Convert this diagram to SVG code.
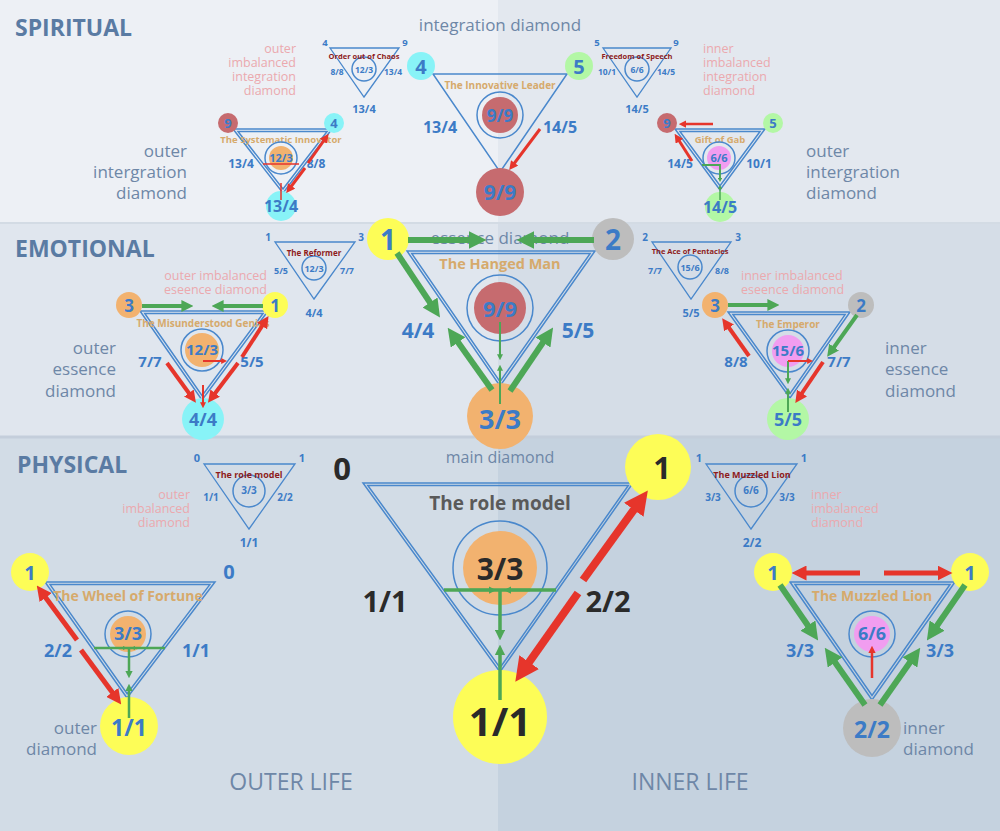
<svg xmlns="http://www.w3.org/2000/svg" width="1000" height="831" viewBox="0 0 1000 831">
<defs>
<style>
text{font-family:"Open Sans","DejaVu Sans",sans-serif}
.b{font-weight:bold;fill:#3c7bc6;text-anchor:middle;dominant-baseline:central}
.k{font-weight:bold;fill:#2a2a2a;text-anchor:middle;dominant-baseline:central}
.t{font-weight:bold;fill:#d6aa6c;text-anchor:middle;dominant-baseline:central}
.dr{font-weight:bold;fill:#8e1c1c;text-anchor:middle;dominant-baseline:central}
.sec{font-weight:bold;fill:#5a7ba3;font-size:23px}
.d{fill:#6e87a7}
.pk{fill:#eba9ae;font-size:12.5px}
.tri{fill:none;stroke:#4a88cc;stroke-width:1.5}
.tri2{fill:none;stroke:#4a88cc;stroke-width:1.3}
.ring{fill:none;stroke:#4a88cc;stroke-width:1.5}
.r{stroke:#e6352b;fill:none;marker-end:url(#ar)}
.g{stroke:#4da756;fill:none;marker-end:url(#ag)}
.rl{stroke:#e6352b;fill:none}
.gl{stroke:#4da756;fill:none}
.cy{fill:#88f3f7}.ye{fill:#fdfd57}.or{fill:#f2b26f}.gr{fill:#b3f7a5}.gy{fill:#bdbdbd}.ro{fill:#c66b6f}.mg{fill:#f19df0}
</style>
<marker id="ar" viewBox="0 0 10 10" refX="3" refY="5" markerWidth="3" markerHeight="3" orient="auto"><path d="M0,0L10,5L0,10z" fill="#e6352b"/></marker>
<marker id="ag" viewBox="0 0 10 10" refX="3" refY="5" markerWidth="3" markerHeight="3" orient="auto"><path d="M0,0L10,5L0,10z" fill="#4da756"/></marker>
</defs>

<g id="background">
<rect x="0" y="0" width="498" height="223" fill="#edf0f5"/>
<rect x="498" y="0" width="502" height="223" fill="#e3e8ef"/>
<rect x="0" y="223" width="498" height="214" fill="#e0e6ee"/>
<rect x="498" y="223" width="502" height="214" fill="#d5dde7"/>
<rect x="0" y="437" width="498" height="394" fill="#d2dce6"/>
<rect x="498" y="437" width="502" height="394" fill="#c5d2df"/>
<line x1="0" y1="223" x2="1000" y2="223" stroke="#d3dbe4" stroke-width="2"/>
<line x1="0" y1="437" x2="1000" y2="437" stroke="#c4cedb" stroke-width="3"/>
</g>

<g id="section-labels">
<text class="sec" x="15" y="36">SPIRITUAL</text>
<text class="sec" x="15" y="257">EMOTIONAL</text>
<text class="sec" x="17" y="473">PHYSICAL</text>
<text class="d" x="500" y="31" text-anchor="middle" font-size="17">integration diamond</text>
<text class="d" x="500" y="244" text-anchor="middle" font-size="17">essence diamond</text>
<text class="d" x="500" y="463" text-anchor="middle" font-size="16">main diamond</text>
<text class="d" x="291" y="790" text-anchor="middle" font-size="23">OUTER LIFE</text>
<text class="d" x="690" y="790" text-anchor="middle" font-size="23">INNER LIFE</text>
<g font-size="17">
<text class="d" x="187" y="157" text-anchor="end">outer</text>
<text class="d" x="187" y="178" text-anchor="end">intergration</text>
<text class="d" x="187" y="199" text-anchor="end">diamond</text>
<text class="d" x="806" y="157">outer</text>
<text class="d" x="806" y="178">intergration</text>
<text class="d" x="806" y="199">diamond</text>
<text class="d" x="116" y="354" text-anchor="end">outer</text>
<text class="d" x="116" y="375" text-anchor="end">essence</text>
<text class="d" x="116" y="397" text-anchor="end">diamond</text>
<text class="d" x="885" y="354">inner</text>
<text class="d" x="885" y="375">essence</text>
<text class="d" x="885" y="397">diamond</text>
<text class="d" x="97" y="734" text-anchor="end">outer</text>
<text class="d" x="97" y="755" text-anchor="end">diamond</text>
<text class="d" x="903" y="734">inner</text>
<text class="d" x="903" y="755">diamond</text>
</g>
<text class="pk" x="296" y="53" text-anchor="end">outer</text>
<text class="pk" x="296" y="67" text-anchor="end">imbalanced</text>
<text class="pk" x="296" y="81" text-anchor="end">integration</text>
<text class="pk" x="296" y="95" text-anchor="end">diamond</text>
<text class="pk" x="703" y="53">inner</text>
<text class="pk" x="703" y="67">imbalanced</text>
<text class="pk" x="703" y="81">integration</text>
<text class="pk" x="703" y="95">diamond</text>
<text class="pk" x="267" y="280" text-anchor="end">outer imbalanced</text>
<text class="pk" x="267" y="294" text-anchor="end">eseence diamond</text>
<text class="pk" x="741" y="280">inner imbalanced</text>
<text class="pk" x="741" y="294">eseence diamond</text>
<text class="pk" x="190" y="499" text-anchor="end">outer</text>
<text class="pk" x="190" y="513" text-anchor="end">imbalanced</text>
<text class="pk" x="190" y="527" text-anchor="end">diamond</text>
<text class="pk" x="811" y="499">inner</text>
<text class="pk" x="811" y="513">imbalanced</text>
<text class="pk" x="811" y="527">diamond</text>
</g>

<!-- ========== SPIRITUAL ========== -->
<g id="order-out-of-chaos">
<path class="tri2" d="M330,48L399,48L364,97Z"/>
<circle class="ring" cx="364" cy="69" r="12" stroke-width="1.2"/>
<text class="dr" x="364" y="56" font-size="7.5">Order out of Chaos</text>
<text class="b" x="364" y="69" font-size="8.5">12/3</text>
<text class="b" x="325" y="42" font-size="9.5">4</text>
<text class="b" x="405" y="42" font-size="9.5">9</text>
<text class="b" x="337" y="71" font-size="8.5">8/8</text>
<text class="b" x="393" y="71" font-size="8.5">13/4</text>
<text class="b" x="364" y="108" font-size="11">13/4</text>
</g>

<g id="systematic-innovator">
<path class="tri" d="M233,129L332,129L283,193Z"/>
<path class="tri" d="M233,129L332,129L283,193Z" transform="translate(283,153) scale(0.9) translate(-283,-153)" vector-effect="non-scaling-stroke"/>
<circle class="ro" cx="228" cy="123" r="10"/><text class="b" x="228" y="123" font-size="13">9</text>
<circle class="cy" cx="334" cy="123" r="10"/><text class="b" x="334" y="123" font-size="13">4</text>
<text class="t" x="281" y="139" font-size="9.5">The Systematic Innovator</text>
<circle class="ring" cx="281" cy="158" r="16"/>
<circle class="or" cx="281" cy="158" r="12"/><text class="b" x="281" y="157" font-size="11">12/3</text>
<text class="b" x="241" y="163" font-size="12">13/4</text>
<text class="b" x="316" y="163" font-size="12">8/8</text>
<circle class="cy" cx="281" cy="206" r="15"/><text class="b" x="281" y="206" font-size="16">13/4</text>
</g>

<g id="innovative-leader">
<path class="tri" d="M433,74L567,74L500,172Z"/>
<circle class="cy" cx="421" cy="66" r="14"/><text class="b" x="421" y="66" font-size="20">4</text>
<circle class="gr" cx="579" cy="66" r="14"/><text class="b" x="579" y="66" font-size="20">5</text>
<text class="t" x="500" y="85" font-size="10">The Innovative Leader</text>
<circle class="ring" cx="500" cy="115" r="23"/>
<circle class="ro" cx="500" cy="115" r="18"/><text class="b" x="500" y="115" font-size="17">9/9</text>
<text class="b" x="440" y="127" font-size="16">13/4</text>
<text class="b" x="560" y="127" font-size="16">14/5</text>
<circle class="ro" cx="500" cy="192" r="24"/><text class="b" x="500" y="192" font-size="21">9/9</text>
</g>

<g id="freedom-of-speech">
<path class="tri2" d="M603,48L671,48L637,97Z"/>
<circle class="ring" cx="637" cy="69" r="12" stroke-width="1.2"/>
<text class="dr" x="637" y="56" font-size="7.5">Freedom of Speech</text>
<text class="b" x="637" y="69" font-size="8.5">6/6</text>
<text class="b" x="597" y="42" font-size="9.5">5</text>
<text class="b" x="676" y="42" font-size="9.5">9</text>
<text class="b" x="607" y="71" font-size="8.5">10/1</text>
<text class="b" x="666" y="71" font-size="8.5">14/5</text>
<text class="b" x="637" y="108" font-size="11">14/5</text>
</g>

<g id="gift-of-gab">
<path class="tri" d="M675,129L765,129L720,190Z"/>
<path class="tri" d="M675,129L765,129L720,190Z" transform="translate(720,152) scale(0.89) translate(-720,-152)" vector-effect="non-scaling-stroke"/>
<circle class="ro" cx="667" cy="123" r="10"/><text class="b" x="667" y="123" font-size="13">9</text>
<circle class="gr" cx="773" cy="123" r="10"/><text class="b" x="773" y="123" font-size="13">5</text>
<text class="t" x="720" y="139" font-size="9.5">Gift of Gab</text>
<circle class="ring" cx="719" cy="158" r="16"/>
<circle class="mg" cx="719" cy="158" r="12"/><text class="b" x="719" y="157" font-size="11">6/6</text>
<text class="b" x="680" y="163" font-size="12">14/5</text>
<text class="b" x="759" y="163" font-size="12">10/1</text>
<circle class="gr" cx="720" cy="207" r="15"/><text class="b" x="720" y="207" font-size="16">14/5</text>
</g>

<!-- ========== EMOTIONAL ========== -->
<g id="the-reformer">
<path class="tri2" d="M275,242L355,242L314,299Z"/>
<circle class="ring" cx="314" cy="268" r="12" stroke-width="1.2"/>
<text class="dr" x="314" y="252" font-size="8">The Reformer</text>
<text class="b" x="314" y="268" font-size="9">12/3</text>
<text class="b" x="268" y="237" font-size="10">1</text>
<text class="b" x="361" y="237" font-size="10">3</text>
<text class="b" x="281" y="270" font-size="9">5/5</text>
<text class="b" x="347" y="270" font-size="9">7/7</text>
<text class="b" x="314" y="312" font-size="11">4/4</text>
</g>

<g id="misunderstood-genius">
<path class="tri" d="M140,311L268,311L202,400Z"/>
<path class="tri" d="M140,311L268,311L202,400Z" transform="translate(203,344) scale(0.924) translate(-203,-344)" vector-effect="non-scaling-stroke"/>
<circle class="or" cx="129" cy="305" r="13"/><text class="b" x="129" y="305" font-size="17">3</text>
<circle class="ye" cx="275" cy="305" r="13"/><text class="b" x="275" y="305" font-size="17">1</text>
<text class="t" x="203" y="323" font-size="10">The Misunderstood Genius</text>
<circle class="ring" cx="202" cy="350" r="21"/>
<circle class="or" cx="202" cy="350" r="17"/><text class="b" x="202" y="349" font-size="15">12/3</text>
<text class="b" x="150" y="361" font-size="15">7/7</text>
<text class="b" x="252" y="361" font-size="15">5/5</text>
<circle class="cy" cx="203" cy="419" r="21"/><text class="b" x="203" y="419" font-size="18">4/4</text>
</g>

<g id="hanged-man">
<path class="tri" d="M407,251L595,251L500,386Z" stroke-width="1.8"/>
<path class="tri" d="M407,251L595,251L500,386Z" stroke-width="1.8" transform="translate(500,300) scale(0.949) translate(-500,-300)" vector-effect="non-scaling-stroke"/>
<circle class="ye" cx="388" cy="239" r="21"/><text class="b" x="388" y="239" font-size="28">1</text>
<circle class="gy" cx="613" cy="239" r="21"/><text class="b" x="613" y="239" font-size="28">2</text>
<text class="t" x="500" y="263" font-size="14.5">The Hanged Man</text>
<circle class="ring" cx="500" cy="308" r="33"/>
<circle class="ro" cx="500" cy="308" r="26"/><text class="b" x="500" y="308" font-size="22">9/9</text>
<text class="b" x="418" y="330" font-size="21">4/4</text>
<text class="b" x="578" y="330" font-size="21">5/5</text>
<circle class="or" cx="500" cy="416" r="33"/><text class="b" x="500" y="418" font-size="27">3/3</text>
</g>

<g id="ace-of-pentacles">
<path class="tri2" d="M652,242L731,242L691,299Z"/>
<circle class="ring" cx="690" cy="267" r="12" stroke-width="1.2"/>
<text class="dr" x="690" y="251" font-size="7.5">The Ace of Pentacles</text>
<text class="b" x="690" y="267" font-size="9">15/6</text>
<text class="b" x="645" y="237" font-size="10">2</text>
<text class="b" x="738" y="237" font-size="10">3</text>
<text class="b" x="655" y="270" font-size="9">7/7</text>
<text class="b" x="722" y="270" font-size="9">8/8</text>
<text class="b" x="691" y="312" font-size="11">5/5</text>
</g>

<g id="the-emperor">
<path class="tri" d="M728,312L850,312L790,398Z"/>
<path class="tri" d="M728,312L850,312L790,398Z" transform="translate(789,344) scale(0.92) translate(-789,-344)" vector-effect="non-scaling-stroke"/>
<circle class="or" cx="715" cy="305" r="13"/><text class="b" x="715" y="305" font-size="17">3</text>
<circle class="gy" cx="861" cy="305" r="13"/><text class="b" x="861" y="305" font-size="17">2</text>
<text class="t" x="788" y="324" font-size="10">The Emperor</text>
<circle class="ring" cx="788" cy="351" r="21"/>
<circle class="mg" cx="788" cy="351" r="16"/><text class="b" x="788" y="350" font-size="15">15/6</text>
<text class="b" x="736" y="361" font-size="15">8/8</text>
<text class="b" x="839" y="361" font-size="15">7/7</text>
<circle class="gr" cx="788" cy="419" r="21"/><text class="b" x="788" y="419" font-size="18">5/5</text>
</g>

<!-- ========== PHYSICAL ========== -->
<g id="role-model-small">
<path class="tri2" d="M204,464L295,464L249,529Z"/>
<circle class="ring" cx="249" cy="491" r="16" stroke-width="1.2"/>
<text class="dr" x="249" y="474" font-size="9">The role model</text>
<text class="b" x="249" y="490" font-size="10">3/3</text>
<text class="b" x="197" y="457" font-size="11">0</text>
<text class="b" x="302" y="457" font-size="11">1</text>
<text class="b" x="211" y="497" font-size="10">1/1</text>
<text class="b" x="285" y="497" font-size="10">2/2</text>
<text class="b" x="249" y="542" font-size="12">1/1</text>
</g>

<g id="wheel-of-fortune">
<path class="tri" d="M45,582L215,582L127,698Z" stroke-width="1.8"/>
<path class="tri" d="M45,582L215,582L127,698Z" stroke-width="1.8" transform="translate(129,625) scale(0.94) translate(-129,-625)" vector-effect="non-scaling-stroke"/>
<circle class="ye" cx="30" cy="572" r="19"/><text class="b" x="30" y="572" font-size="20">1</text>
<text class="b" x="229" y="571" font-size="20">0</text>
<text class="t" x="128" y="595" font-size="14">The Wheel of Fortune</text>
<circle class="ring" cx="128" cy="634" r="23"/>
<circle class="or" cx="128" cy="634" r="18"/><text class="b" x="128" y="633" font-size="18">3/3</text>
<text class="b" x="58" y="650" font-size="18">2/2</text>
<text class="b" x="196" y="650" font-size="18">1/1</text>
<circle class="ye" cx="129" cy="726" r="29"/><text class="b" x="129" y="727" font-size="23">1/1</text>
</g>

<g id="role-model-main">
<path class="tri" d="M363,483L633,483L500,672Z" stroke-width="2.6"/>
<path class="tri" d="M363,483L633,483L500,672Z" stroke-width="1.4" transform="translate(500,552) scale(0.965) translate(-500,-552)" vector-effect="non-scaling-stroke"/>
<text class="k" x="342" y="468" font-size="31">0</text>
<circle class="ye" cx="658" cy="467" r="33"/><text class="k" x="662" y="467" font-size="31">1</text>
<text class="k" x="500" y="503" font-size="19" style="fill:#5a5a5a">The role model</text>
<circle class="ring" cx="500" cy="568" r="47" stroke-width="2"/>
<circle class="or" cx="500" cy="568" r="37"/><text class="k" x="500" y="568" font-size="30">3/3</text>
<text class="k" x="385" y="600" font-size="29">1/1</text>
<text class="k" x="608" y="600" font-size="29">2/2</text>
<circle class="ye" cx="500" cy="717" r="47"/><text class="k" x="500" y="720" font-size="40">1/1</text>
</g>

<g id="muzzled-lion-small">
<path class="tri2" d="M706,464L797,464L751,529Z"/>
<circle class="ring" cx="751" cy="491" r="16" stroke-width="1.2"/>
<text class="dr" x="752" y="474" font-size="9">The Muzzled Lion</text>
<text class="b" x="751" y="490" font-size="10">6/6</text>
<text class="b" x="699" y="457" font-size="11">1</text>
<text class="b" x="804" y="457" font-size="11">1</text>
<text class="b" x="713" y="497" font-size="10">3/3</text>
<text class="b" x="787" y="497" font-size="10">3/3</text>
<text class="b" x="752" y="542" font-size="12">2/2</text>
</g>

<g id="muzzled-lion">
<path class="tri" d="M790,582L955,582L872,700Z" stroke-width="1.8"/>
<path class="tri" d="M790,582L955,582L872,700Z" stroke-width="1.8" transform="translate(872,624) scale(0.94) translate(-872,-624)" vector-effect="non-scaling-stroke"/>
<circle class="ye" cx="773" cy="572" r="19"/><text class="b" x="773" y="572" font-size="20">1</text>
<circle class="ye" cx="970" cy="572" r="19"/><text class="b" x="970" y="572" font-size="20">1</text>
<text class="t" x="872" y="595" font-size="14">The Muzzled Lion</text>
<circle class="ring" cx="872" cy="634" r="23"/>
<circle class="mg" cx="872" cy="634" r="18"/><text class="b" x="872" y="633" font-size="18">6/6</text>
<text class="b" x="800" y="650" font-size="18">3/3</text>
<text class="b" x="940" y="650" font-size="18">3/3</text>
<circle class="gy" cx="872" cy="728" r="29"/><text class="b" x="872" y="729" font-size="23">2/2</text>
</g>

<!-- ========== CONNECTORS ========== -->
<g id="connectors">
<line class="r" x1="308" y1="163" x2="325" y2="139" stroke-width="3"/>
<line class="r" x1="305" y1="168" x2="290" y2="188" stroke-width="3"/>
<line class="rl" x1="263" y1="164" x2="299" y2="164" stroke-width="1.5"/>
<line class="rl" x1="281" y1="183" x2="281" y2="200" stroke-width="1.5"/>
<line class="r" x1="540" y1="129" x2="513" y2="165" stroke-width="3"/>
<line class="r" x1="713" y1="124" x2="684" y2="124" stroke-width="2.5"/>
<line class="r" x1="692" y1="161" x2="678" y2="139" stroke-width="3"/>
<polyline class="gl" points="702,165 720,165 720,178" stroke-width="1.8"/>
<line class="g" x1="720" y1="170" x2="720" y2="179" stroke-width="1.5"/>
<line class="g" x1="720" y1="200" x2="720" y2="188" stroke-width="1.5"/>
<line class="g" x1="142" y1="306" x2="185" y2="306" stroke-width="4"/>
<line class="g" x1="263" y1="306" x2="220" y2="306" stroke-width="4"/>
<line class="r" x1="167" y1="363" x2="191" y2="396" stroke-width="4"/>
<line class="r" x1="238" y1="363" x2="213" y2="396" stroke-width="4"/>
<line class="r" x1="242" y1="357" x2="264" y2="323" stroke-width="4"/>
<line class="r" x1="203" y1="385" x2="203" y2="404" stroke-width="2"/>
<line class="r" x1="203" y1="361" x2="223" y2="361" stroke-width="2"/>
<line class="g" x1="408" y1="240" x2="474" y2="240" stroke-width="6"/>
<line class="g" x1="594" y1="240" x2="529" y2="240" stroke-width="6"/>
<line class="g" x1="397" y1="253" x2="433" y2="307" stroke-width="6"/>
<line class="g" x1="492" y1="390" x2="455" y2="338" stroke-width="6"/>
<line class="g" x1="510" y1="391" x2="546" y2="338" stroke-width="6"/>
<line class="g" x1="500" y1="322" x2="500" y2="356" stroke-width="2"/>
<line class="g" x1="500" y1="404" x2="500" y2="369" stroke-width="2"/>
<line class="g" x1="728" y1="305" x2="771" y2="305" stroke-width="4"/>
<line class="g" x1="857" y1="315" x2="832" y2="350" stroke-width="4"/>
<line class="r" x1="749" y1="356" x2="727" y2="325" stroke-width="4"/>
<line class="r" x1="823" y1="362" x2="800" y2="396" stroke-width="4"/>
<line class="g" x1="788" y1="361" x2="788" y2="380" stroke-width="2"/>
<line class="g" x1="788" y1="412" x2="788" y2="392" stroke-width="2"/>
<line class="r" x1="788" y1="361" x2="809" y2="361" stroke-width="2"/>
<line class="r" x1="77" y1="640" x2="43" y2="594" stroke-width="5"/>
<line class="r" x1="81" y1="650" x2="115" y2="696" stroke-width="5"/>
<line class="gl" x1="94" y1="648" x2="165" y2="648" stroke-width="2.5"/>
<line class="g" x1="112" y1="648" x2="124" y2="648" stroke-width="1.5"/>
<line class="g" x1="146" y1="648" x2="134" y2="648" stroke-width="1.5"/>
<line class="g" x1="129" y1="648" x2="129" y2="673" stroke-width="2.5"/>
<line class="g" x1="129" y1="718" x2="129" y2="689" stroke-width="2.5"/>
<line class="r" x1="583" y1="580" x2="638" y2="504" stroke-width="8"/>
<line class="r" x1="578" y1="593" x2="525" y2="668" stroke-width="8"/>
<line class="gl" x1="444" y1="590" x2="556" y2="590" stroke-width="3.5"/>
<line class="g" x1="470" y1="590" x2="491" y2="590" stroke-width="2.5"/>
<line class="g" x1="530" y1="590" x2="509" y2="590" stroke-width="2.5"/>
<line class="g" x1="500" y1="590" x2="500" y2="633" stroke-width="3.5"/>
<line class="g" x1="500" y1="700" x2="500" y2="652" stroke-width="3.5"/>
<line class="r" x1="860" y1="573" x2="802" y2="573" stroke-width="5"/>
<line class="r" x1="884" y1="573" x2="942" y2="573" stroke-width="5"/>
<line class="g" x1="780" y1="585" x2="811" y2="630" stroke-width="6"/>
<line class="g" x1="965" y1="585" x2="934" y2="630" stroke-width="6"/>
<line class="g" x1="865" y1="705" x2="832" y2="658" stroke-width="6"/>
<line class="g" x1="880" y1="705" x2="913" y2="658" stroke-width="6"/>
<line class="r" x1="872" y1="678" x2="872" y2="651" stroke-width="2.5"/>
</g>
</svg>
